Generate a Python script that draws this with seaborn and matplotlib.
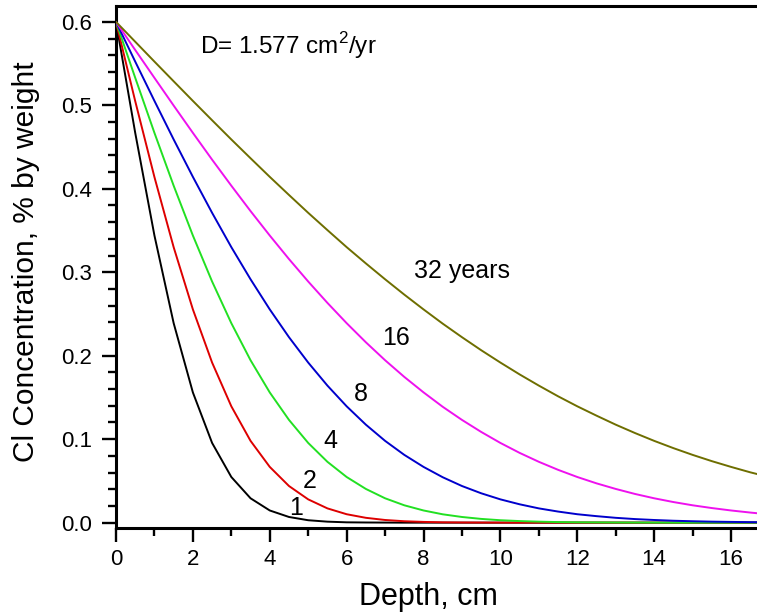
import matplotlib
matplotlib.use("Agg")
import matplotlib.pyplot as plt
import seaborn as sns
import pandas as pd
from matplotlib.ticker import MultipleLocator

# ---- data ----
depth = [0.0, 0.5, 1.0, 1.5, 2.0, 2.5, 3.0, 3.5, 4.0, 4.5, 5.0, 5.5, 6.0, 6.5, 7.0,
         7.5, 8.0, 8.5, 9.0, 9.5, 10.0, 10.5, 11.0, 11.5, 12.0, 12.5, 13.0, 13.5,
         14.0, 14.5, 15.0, 15.5, 16.0, 16.5, 16.7]

conc_1 = [0.600, 0.467, 0.344, 0.239, 0.156, 0.0955, 0.0547, 0.0292, 0.0146, 0.0068,
          0.0029, 0.0012, 0.0004, 0.0002, 0.0001] + [0.0] * 20
conc_2 = [0.600, 0.505, 0.414, 0.330, 0.2555, 0.1918, 0.1394, 0.0980, 0.0668, 0.0439,
          0.0279, 0.0171, 0.0101, 0.0058, 0.0032, 0.0017, 0.0009, 0.0004, 0.0002,
          0.0001, 0.00005] + [0.0] * 14
conc_4 = [0.600, 0.533, 0.467, 0.4037, 0.344, 0.2889, 0.239, 0.1946, 0.156, 0.1231,
          0.0955, 0.0729, 0.0547, 0.0404, 0.0292, 0.0208, 0.0146, 0.0100, 0.0068,
          0.0045, 0.0029, 0.0019, 0.0012, 0.0007, 0.0004, 0.0003, 0.00015, 0.0001,
          0.00005] + [0.0] * 6
conc_8 = [0.600, 0.5524, 0.5053, 0.4591, 0.4143, 0.3712, 0.3301, 0.2916, 0.2555, 0.2222,
          0.1918, 0.1642, 0.1394, 0.1174, 0.0980, 0.0812, 0.0668, 0.0544, 0.0439, 0.0352,
          0.0279, 0.0220, 0.0171, 0.0133, 0.0101, 0.0078, 0.0058, 0.0043, 0.0032, 0.0023,
          0.0017, 0.0012, 0.0009, 0.0006, 0.0005]
conc_16 = [0.600, 0.5663, 0.5329, 0.4997, 0.4670, 0.4349, 0.4037, 0.3733, 0.3440, 0.3158,
           0.2889, 0.2633, 0.2390, 0.2161, 0.1946, 0.1746, 0.1561, 0.1388, 0.1231, 0.1087,
           0.0955, 0.0836, 0.0729, 0.0633, 0.0547, 0.0471, 0.0404, 0.0344, 0.0292, 0.0247,
           0.0208, 0.0175, 0.0146, 0.0121, 0.0112]
conc_32 = [0.600, 0.5762, 0.5524, 0.5288, 0.5053, 0.4821, 0.4591, 0.4366, 0.4143, 0.3926,
           0.3712, 0.3505, 0.3301, 0.3106, 0.2916, 0.2732, 0.2555, 0.2384, 0.2222, 0.2066,
           0.1918, 0.1776, 0.1642, 0.1514, 0.1394, 0.1282, 0.1174, 0.1074, 0.0980, 0.0893,
           0.0812, 0.0737, 0.0668, 0.0603, 0.0580]

years = ["1", "2", "4", "8", "16", "32"]
curve_labels = ["1", "2", "4", "8", "16", "32 years"]
series = [conc_1, conc_2, conc_4, conc_8, conc_16, conc_32]
colors = ["#000000", "#dd0000", "#22e022", "#0000cc", "#ee11ee", "#6e6e00"]

x_ticks = [0, 2, 4, 6, 8, 10, 12, 14, 16]
y_ticks = [0.0, 0.1, 0.2, 0.3, 0.4, 0.5, 0.6]

# ---- build long-form table ----
rows = []
for yr, vals in zip(years, series):
    for d, c in zip(depth, vals):
        rows.append({"Depth": d, "Conc": c, "Years": yr})
df = pd.DataFrame(rows)

sns.set_style("ticks")
plt.rcParams["font.family"] = ["Liberation Sans", "DejaVu Sans"]
plt.rcParams["mathtext.fontset"] = "custom"
plt.rcParams["mathtext.rm"] = "Liberation Sans"
plt.rcParams["text.color"] = "black"
plt.rcParams["axes.labelcolor"] = "black"
plt.rcParams["xtick.color"] = "black"
plt.rcParams["ytick.color"] = "black"
plt.rcParams["xtick.labelcolor"] = "black"
plt.rcParams["ytick.labelcolor"] = "black"

fig = plt.figure(figsize=(7.57, 6.13), dpi=100)
ax = fig.add_axes([116 / 757, 85 / 613, 641 / 757, 522 / 613])

sns.lineplot(data=df, x="Depth", y="Conc", hue="Years", hue_order=years,
             palette=dict(zip(years, colors)), linewidth=1.4, legend=False,
             ax=ax, zorder=3)

ax.set_xlim(0, 16.675)
ax.set_ylim(-0.0064, 0.619)
ax.set_xticks(x_ticks)
ax.set_yticks(y_ticks)
ax.set_xticklabels([str(v) for v in x_ticks])
ax.set_yticklabels([f"{v:.1f}" for v in y_ticks])
ax.xaxis.set_minor_locator(MultipleLocator(1))
ax.yaxis.set_minor_locator(MultipleLocator(0.02))

for side in ["left", "bottom", "top"]:
    ax.spines[side].set_linewidth(2.2)
    ax.spines[side].set_color("black")
ax.spines["right"].set_visible(False)

ax.tick_params(axis="both", which="major", direction="out", length=10, width=1.7,
               labelsize=16, color="black", labelcolor="black")
ax.tick_params(axis="both", which="minor", direction="out", length=5.5, width=1.7,
               color="black")
ax.tick_params(axis="y", which="major", pad=7)
ax.tick_params(axis="x", which="major", pad=5)
ax.tick_params(top=False, which="both")

ax.set_xlabel("Depth, cm", fontsize=22, color="black")
ax.xaxis.set_label_coords((428 - 116) / 641, -0.103)
ax.set_ylabel("Cl Concentration, % by weight", fontsize=21.5, color="black")
ax.yaxis.set_label_coords((40 - 116) / 641, 0.51)

ax.text(2.19, 0.572, "D= 1.577 cm$^2$/yr", fontsize=17.5, ha="left", va="center",
        color="black")

label_pos = [(4.68, 0.017), (5.05, 0.050), (5.57, 0.098), (6.37, 0.1545),
             (7.29, 0.2216), (9.0, 0.302)]
for (lx, ly), txt in zip(label_pos, curve_labels):
    ax.text(lx, ly, txt, fontsize=18, ha="center", va="center", color="black")

fig.savefig("out.png", dpi=100)
